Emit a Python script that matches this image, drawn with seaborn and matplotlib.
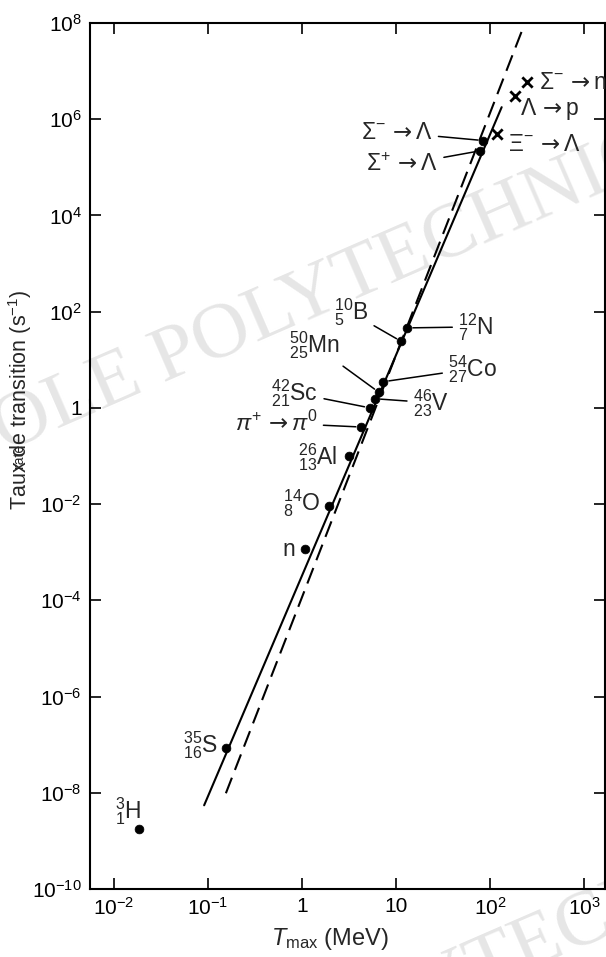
import numpy as np
import pandas as pd
import matplotlib
matplotlib.use('Agg')
import matplotlib.pyplot as plt
import seaborn as sns
from matplotlib.ticker import FixedLocator, FuncFormatter

AR = r'\,\mathsf{\rightarrow}'  # arrow glyph taken from DejaVu Sans

# beta decays (dots)
beta_names = ['3H', '35S', 'n', '14O', '26Al', 'pi', '42Sc', '46V', '50Mn', '54Co', '10B', '12N', 'Sp_L', 'Sm_L']
beta_labels = [r'${}^{3}_{1}\mathrm{H}$', r'${}^{35}_{16}\mathrm{S}$', r'$\mathrm{n}$', r'${}^{14}_{8}\mathrm{O}$',
               r'${}^{26}_{13}\mathrm{Al}$', r'$\pi^{+}' + AR + r'\pi^{0}$', r'${}^{42}_{21}\mathrm{Sc}$',
               r'${}^{46}_{23}\mathrm{V}$', r'${}^{50}_{25}\mathrm{Mn}$', r'${}^{54}_{27}\mathrm{Co}$',
               r'${}^{10}_{5}\mathrm{B}$', r'${}^{12}_{7}\mathrm{N}$',
               r'$\Sigma^{+}' + AR + r'\Lambda$', r'$\Sigma^{-}' + AR + r'\Lambda$']
beta_tmax = [0.0185, 0.155, 1.07, 1.94, 3.17, 4.28, 5.29, 5.98, 6.6, 7.33, 11.4, 13.2, 78, 85]
beta_rate = [1.8e-9, 8.7e-8, 1.15e-3, 9.1e-3, 0.10, 0.40, 1.0, 1.55, 2.1, 3.5, 24, 46, 2.2e5, 3.6e5]

# hyperon decays (crosses)
hyp_names = ['Xi_L', 'L_p', 'Sm_n']
hyp_labels = [r'$\Xi^{-}' + AR + r'\Lambda$', r'$\Lambda' + AR + r'\mathrm{p}$',
              r'$\Sigma^{-}' + AR + r'\mathrm{n}$']
hyp_tmax = [118, 184, 250]
hyp_rate = [4.9e5, 3.0e6, 5.9e6]

# Sargent lines
solid_tmax = [0.091, 133]
solid_rate = [10 ** -8.26, 10 ** 6.25]
dashed_tmax = [0.155, 230]
dashed_rate = [10 ** -8.01, 10 ** 7.95]

x_ticks = [1e-2, 1e-1, 1, 10, 1e2, 1e3]
y_ticks = [1e-10, 1e-8, 1e-6, 1e-4, 1e-2, 1, 1e2, 1e4, 1e6, 1e8]

# label placement: offset in pixels from the point, ha, leader line
label_pos = {
    '3H': (-11, 17, 'center', False), '35S': (-8, 2, 'right', False), 'n': (-10, 0, 'right', False),
    '14O': (-9, 3, 'right', False), '26Al': (-12, -1, 'right', False), 'pi': (-44, 4, 'right', True),
    '42Sc': (-52, 15, 'right', True), '46V': (38, -4, 'left', True), '50Mn': (-39, 47, 'right', True),
    '54Co': (65, 13, 'left', True), '10B': (-33, 29, 'right', True), '12N': (51, 1, 'left', True),
    'Sp_L': (-42, -14, 'right', True), 'Sm_L': (-51, 8, 'right', True),
    'Xi_L': (11, -10, 'left', False), 'L_p': (5, -13, 'left', False), 'Sm_n': (12, 0, 'left', False),
}

sns.set_style('ticks')
plt.rcParams['font.family'] = ['Liberation Sans', 'DejaVu Sans']
plt.rcParams['mathtext.fontset'] = 'custom'
plt.rcParams['mathtext.rm'] = 'Liberation Sans'
plt.rcParams['mathtext.it'] = 'Liberation Sans:italic'
plt.rcParams['mathtext.bf'] = 'Liberation Sans:bold'
plt.rcParams['mathtext.sf'] = 'DejaVu Sans'

fig = plt.figure(figsize=(6.06, 9.57), dpi=100)
ax = fig.add_axes([90 / 606, 1 - 889 / 957, 515 / 606, 866 / 957])
ax.set_facecolor('none')

# watermark
for wx, wy in [(-88, 492), (45, 1180)]:
    fig.text(wx / 606, 1 - wy / 957, 'ECOLE POLYTECHNIQUE', rotation=23.5, rotation_mode='anchor',
             ha='left', va='baseline', fontsize=57, family='Liberation Serif', color='#e6e6e6', zorder=-5)

beta_df = pd.DataFrame({'name': beta_names, 'tmax': beta_tmax, 'rate': beta_rate})
hyp_df = pd.DataFrame({'name': hyp_names, 'tmax': hyp_tmax, 'rate': hyp_rate})

sns.lineplot(x=solid_tmax, y=solid_rate, ax=ax, color='black', lw=1.5)
sns.lineplot(x=dashed_tmax, y=dashed_rate, ax=ax, color='black', lw=1.5, dashes=False,
             linestyle=(0, (8, 4)))
sns.scatterplot(data=beta_df, x='tmax', y='rate', ax=ax, color='black', s=40, edgecolor='black', zorder=5)
sns.scatterplot(data=hyp_df, x='tmax', y='rate', ax=ax, color='black', marker='x', s=55, linewidth=2, zorder=5)

ax.set_xscale('log')
ax.set_yscale('log')
ax.set_xlim(10 ** -2.255, 10 ** 3.223)
ax.set_ylim(1e-10, 1e8)

for names, labels, xs, ys in [(beta_names, beta_labels, beta_tmax, beta_rate),
                              (hyp_names, hyp_labels, hyp_tmax, hyp_rate)]:
    for nm, lab, xv, yv in zip(names, labels, xs, ys):
        dx, dy, ha, lead = label_pos[nm]
        arrow = dict(arrowstyle='-', color='black', lw=1.1, shrinkA=2, shrinkB=4) if lead else None
        ax.annotate(lab, xy=(xv, yv), xytext=(dx, dy), textcoords='offset pixels',
                    ha=ha, va='center', fontsize=16.5, arrowprops=arrow)

fmt = {1e-2: r'$10^{-2}$', 1e-1: r'$10^{-1}$', 1: '1', 10: '10', 1e2: r'$10^{2}$', 1e3: r'$10^{3}$'}
ax.xaxis.set_major_locator(FixedLocator(x_ticks))
ax.xaxis.set_minor_locator(FixedLocator([]))
ax.xaxis.set_major_formatter(FuncFormatter(lambda v, p: fmt.get(v, '')))
ax.yaxis.set_major_locator(FixedLocator(y_ticks))
ax.yaxis.set_minor_locator(FixedLocator([]))
ax.yaxis.set_major_formatter(FuncFormatter(
    lambda v, p: '1' if abs(v - 1) < 1e-9 else r'$10^{%d}$' % round(np.log10(v))))

ax.tick_params(which='major', direction='in', length=8, width=1.2, top=True, right=True,
               labelsize=15, pad=6, colors='black')
for sp in ax.spines.values():
    sp.set_linewidth(1.5)
    sp.set_color('black')

ax.set_xlabel(r'$T_{\mathrm{max}}$ (MeV)', fontsize=17)
ax.xaxis.set_label_coords(0.466, -0.043)
fig.text(20 / 606, 1 - 400 / 957, r'Taux de transition (s$^{-1}$)', rotation=90,
         ha='center', va='center', fontsize=15.5)

fig.savefig('out.png', dpi=100)
